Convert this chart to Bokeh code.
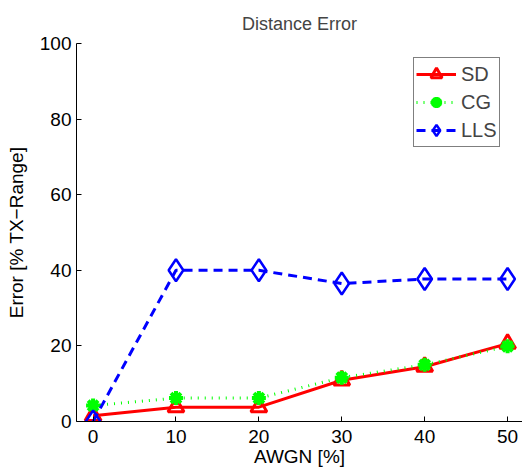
from bokeh.plotting import figure
from bokeh.models import Range1d, FixedTicker
from bokeh.embed import file_html
from bokeh.resources import INLINE

awgn = [0, 10, 20, 30, 40, 50]
sd = [1.5, 3.8, 3.8, 10.9, 14.5, 20.6]
cg = [4.2, 6.2, 6.2, 11.6, 15.0, 19.9]
lls = [0.0, 40.0, 40.0, 36.5, 37.7, 37.7]
x_ticks = [0, 10, 20, 30, 40, 50]
y_ticks = [0, 20, 40, 60, 80, 100]

FONT = "Liberation Sans"

p = figure(width=522, height=473, output_backend="svg", toolbar_location=None,
           x_range=Range1d(-2.0, 51.8), y_range=Range1d(0, 100),
           min_border_left=76, min_border_right=0, min_border_top=43, min_border_bottom=52)
p.outline_line_color = None
p.grid.visible = False
p.background_fill_color = "white"
p.border_fill_color = "white"

p.title.text = "Distance Error"
p.title.align = "center"
p.title.text_font = FONT
p.title.text_font_size = "18px"
p.title.text_font_style = "normal"
p.title.standoff = 20

for ax in (p.xaxis[0], p.yaxis[0]):
    ax.major_tick_in = 5
    ax.major_tick_out = 0
    ax.minor_tick_line_color = None
    ax.axis_line_color = "black"
    ax.major_tick_line_color = "black"
    ax.major_label_text_font = FONT
    ax.major_label_text_font_size = "19px"
    ax.major_label_text_color = "black"
    ax.axis_label_text_font = FONT
    ax.axis_label_text_font_size = "19px"
    ax.axis_label_text_font_style = "normal"
    ax.axis_label_text_color = "black"

p.xaxis.ticker = FixedTicker(ticks=x_ticks)
p.yaxis.ticker = FixedTicker(ticks=y_ticks)
p.xaxis.axis_label = "AWGN [%]"
p.yaxis.axis_label = "Error [% TX\u2212Range]"
p.xaxis.major_label_standoff = 8
p.xaxis.axis_label_standoff = 0
p.yaxis.major_label_standoff = 5
p.yaxis.axis_label_standoff = 10

p.line(awgn, sd, color="#ff0000", line_width=3, legend_label="SD")
p.scatter(awgn, sd, marker="triangle", size=16, fill_alpha=0, line_color="#ff0000",
          line_width=3, legend_label="SD")

p.line(awgn, cg, color="#00ff00", line_width=3, line_dash="1 6", legend_label="CG")
p.scatter(awgn, cg, marker="asterisk", size=14, line_color="#00ff00",
          line_width=4, legend_label="CG")

p.line(awgn, lls, color="#0000ff", line_width=3, line_dash="9 6", legend_label="LLS")
p.scatter(awgn, lls, marker="diamond", size=22, fill_alpha=0, line_color="#0000ff",
          line_width=2.5, legend_label="LLS")

lg = p.legend[0]
lg.location = (337, 274)
lg.border_line_color = "black"
lg.border_line_width = 1
lg.background_fill_color = "white"
lg.background_fill_alpha = 1
lg.label_text_font = FONT
lg.label_text_font_size = "20px"
lg.label_height = 24
lg.glyph_width = 40
lg.glyph_height = 28
lg.spacing = 0
lg.padding = 2
lg.label_standoff = 5
lg.margin = 0

open("out.html", "w").write(file_html(p, INLINE))
